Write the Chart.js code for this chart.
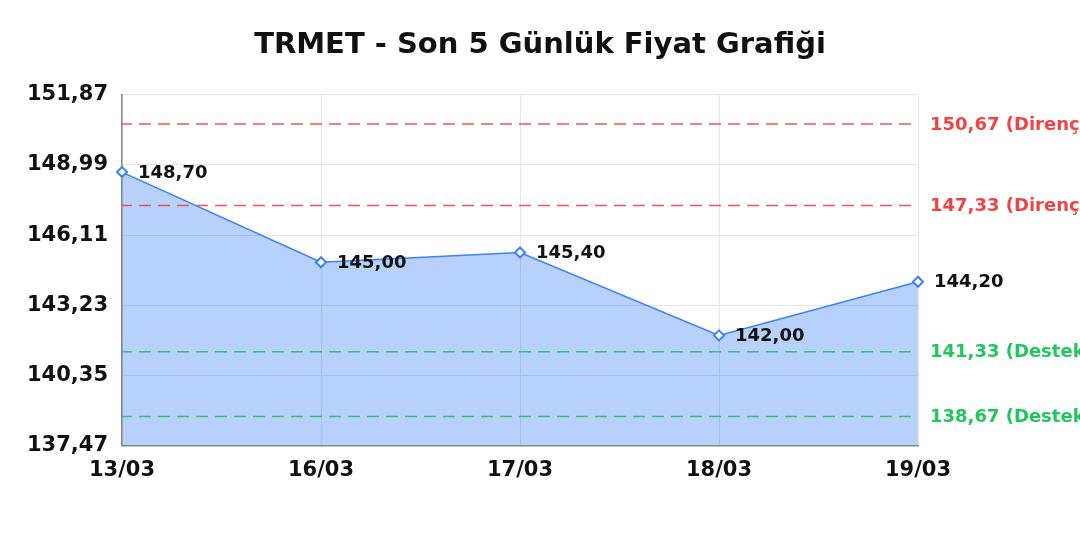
<!DOCTYPE html>
<html>
<head>
<meta charset="utf-8">
<title>TRMET</title>
<script src="https://cdn.jsdelivr.net/npm/chart.js@4.4.1/dist/chart.umd.min.js"></script>
<style>
  html, body { margin: 0; padding: 0; background: #fff; }
  #wrap { width: 1080px; height: 540px; }
</style>
</head>
<body>
<div id="wrap"><canvas id="myChart"></canvas></div>
<script>
// Son 5 gunun kapanis fiyatlari
var labels = ['13/03', '16/03', '17/03', '18/03', '19/03'];
var prices = [148.70, 145.00, 145.40, 142.00, 144.20];

// Y ekseni tick degerleri
var yTicks = [137.47, 140.35, 143.23, 146.11, 148.99, 151.87];

// Destek / direnc seviyeleri
var levelValues = [150.67, 147.33, 141.33, 138.67];
var levelNames = ['Direnç', 'Direnç', 'Destek', 'Destek'];

function fmt(v) {
  return v.toFixed(2).replace('.', ',');
}

var levelsPlugin = {
  id: 'levels',
  afterDatasetsDraw: function(chart) {
    var ctx = chart.ctx, area = chart.chartArea, y = chart.scales.y;
    ctx.save();
    for (var i = 0; i < levelValues.length; i++) {
      var py = y.getPixelForValue(levelValues[i]);
      var color = levelNames[i] === 'Direnç' ? '#ef4444' : '#22c55e';
      ctx.strokeStyle = color;
      ctx.globalAlpha = 0.9;
      ctx.lineWidth = 1.5;
      ctx.setLineDash([12, 7]);
      ctx.lineDashOffset = 2;
      ctx.beginPath();
      ctx.moveTo(area.left, py);
      ctx.lineTo(area.right, py);
      ctx.stroke();
      ctx.setLineDash([]);
      ctx.globalAlpha = 1;
      ctx.fillStyle = color;
      ctx.font = 'bold 18px "DejaVu Sans"';
      ctx.textAlign = 'left';
      ctx.textBaseline = 'middle';
      ctx.fillText(fmt(levelValues[i]) + ' (' + levelNames[i] + ')', area.right + 12, py + 1);
    }
    ctx.restore();
  }
};

var pointLabelsPlugin = {
  id: 'pointLabels',
  afterDraw: function(chart) {
    var ctx = chart.ctx;
    var meta = chart.getDatasetMeta(0);
    ctx.save();
    ctx.fillStyle = '#111';
    ctx.font = 'bold 18px "DejaVu Sans"';
    ctx.textAlign = 'left';
    ctx.textBaseline = 'middle';
    meta.data.forEach(function(pt, i) {
      ctx.fillText(fmt(prices[i]), pt.x + 16, pt.y + 1);
    });
    ctx.restore();
  }
};

var ctx = document.getElementById('myChart').getContext('2d');
var myChart = new Chart(ctx, {
  type: 'line',
  data: {
    labels: labels,
    datasets: [{
      label: 'TRMET',
      data: prices,
      borderColor: '#3b82f6',
      borderWidth: 1.5,
      backgroundColor: 'rgba(59, 130, 246, 0.37)',
      fill: 'start',
      tension: 0,
      pointStyle: 'rectRot',
      pointRadius: 5,
      pointBorderWidth: 2,
      pointBackgroundColor: '#fff',
      pointBorderColor: '#3b82f6'
    }]
  },
  options: {
    responsive: true,
    maintainAspectRatio: false,
    animation: false,
    layout: {
      padding: { left: 0, right: 0, top: 0, bottom: 45 }
    },
    plugins: {
      legend: { display: false },
      tooltip: { enabled: false },
      title: {
        display: true,
        text: 'TRMET - Son 5 Günlük Fiyat Grafiği',
        color: '#111',
        font: { family: 'DejaVu Sans', size: 29, weight: 'bold' },
        padding: { top: 28, bottom: 32 }
      }
    },
    scales: {
      x: {
        grid: { color: '#e5e5e5', drawTicks: false },
        border: { color: '#888', width: 1.5 },
        ticks: {
          color: '#111',
          padding: 12,
          maxRotation: 0,
          font: { family: 'DejaVu Sans', size: 21, weight: 'bold' }
        }
      },
      y: {
        min: yTicks[0],
        max: yTicks[yTicks.length - 1],
        afterBuildTicks: function(scale) {
          scale.ticks = yTicks.map(function(v) { return { value: v }; });
        },
        afterFit: function(scale) { scale.width = 122; },
        grid: { color: '#e5e5e5', drawTicks: false },
        border: { color: '#888', width: 1.5 },
        ticks: {
          color: '#111',
          padding: 14,
          font: { family: 'DejaVu Sans', size: 21, weight: 'bold' },
          callback: function(v) { return fmt(v); }
        }
      },
      // bos sag eksen: seviye etiketleri icin yer ayirir
      yRight: {
        position: 'right',
        min: yTicks[0],
        max: yTicks[yTicks.length - 1],
        afterFit: function(scale) { scale.width = 162; },
        grid: { display: false, drawTicks: false },
        border: { display: false },
        ticks: { display: false }
      }
    }
  },
  plugins: [levelsPlugin, pointLabelsPlugin]
});
</script>
</body>
</html>
